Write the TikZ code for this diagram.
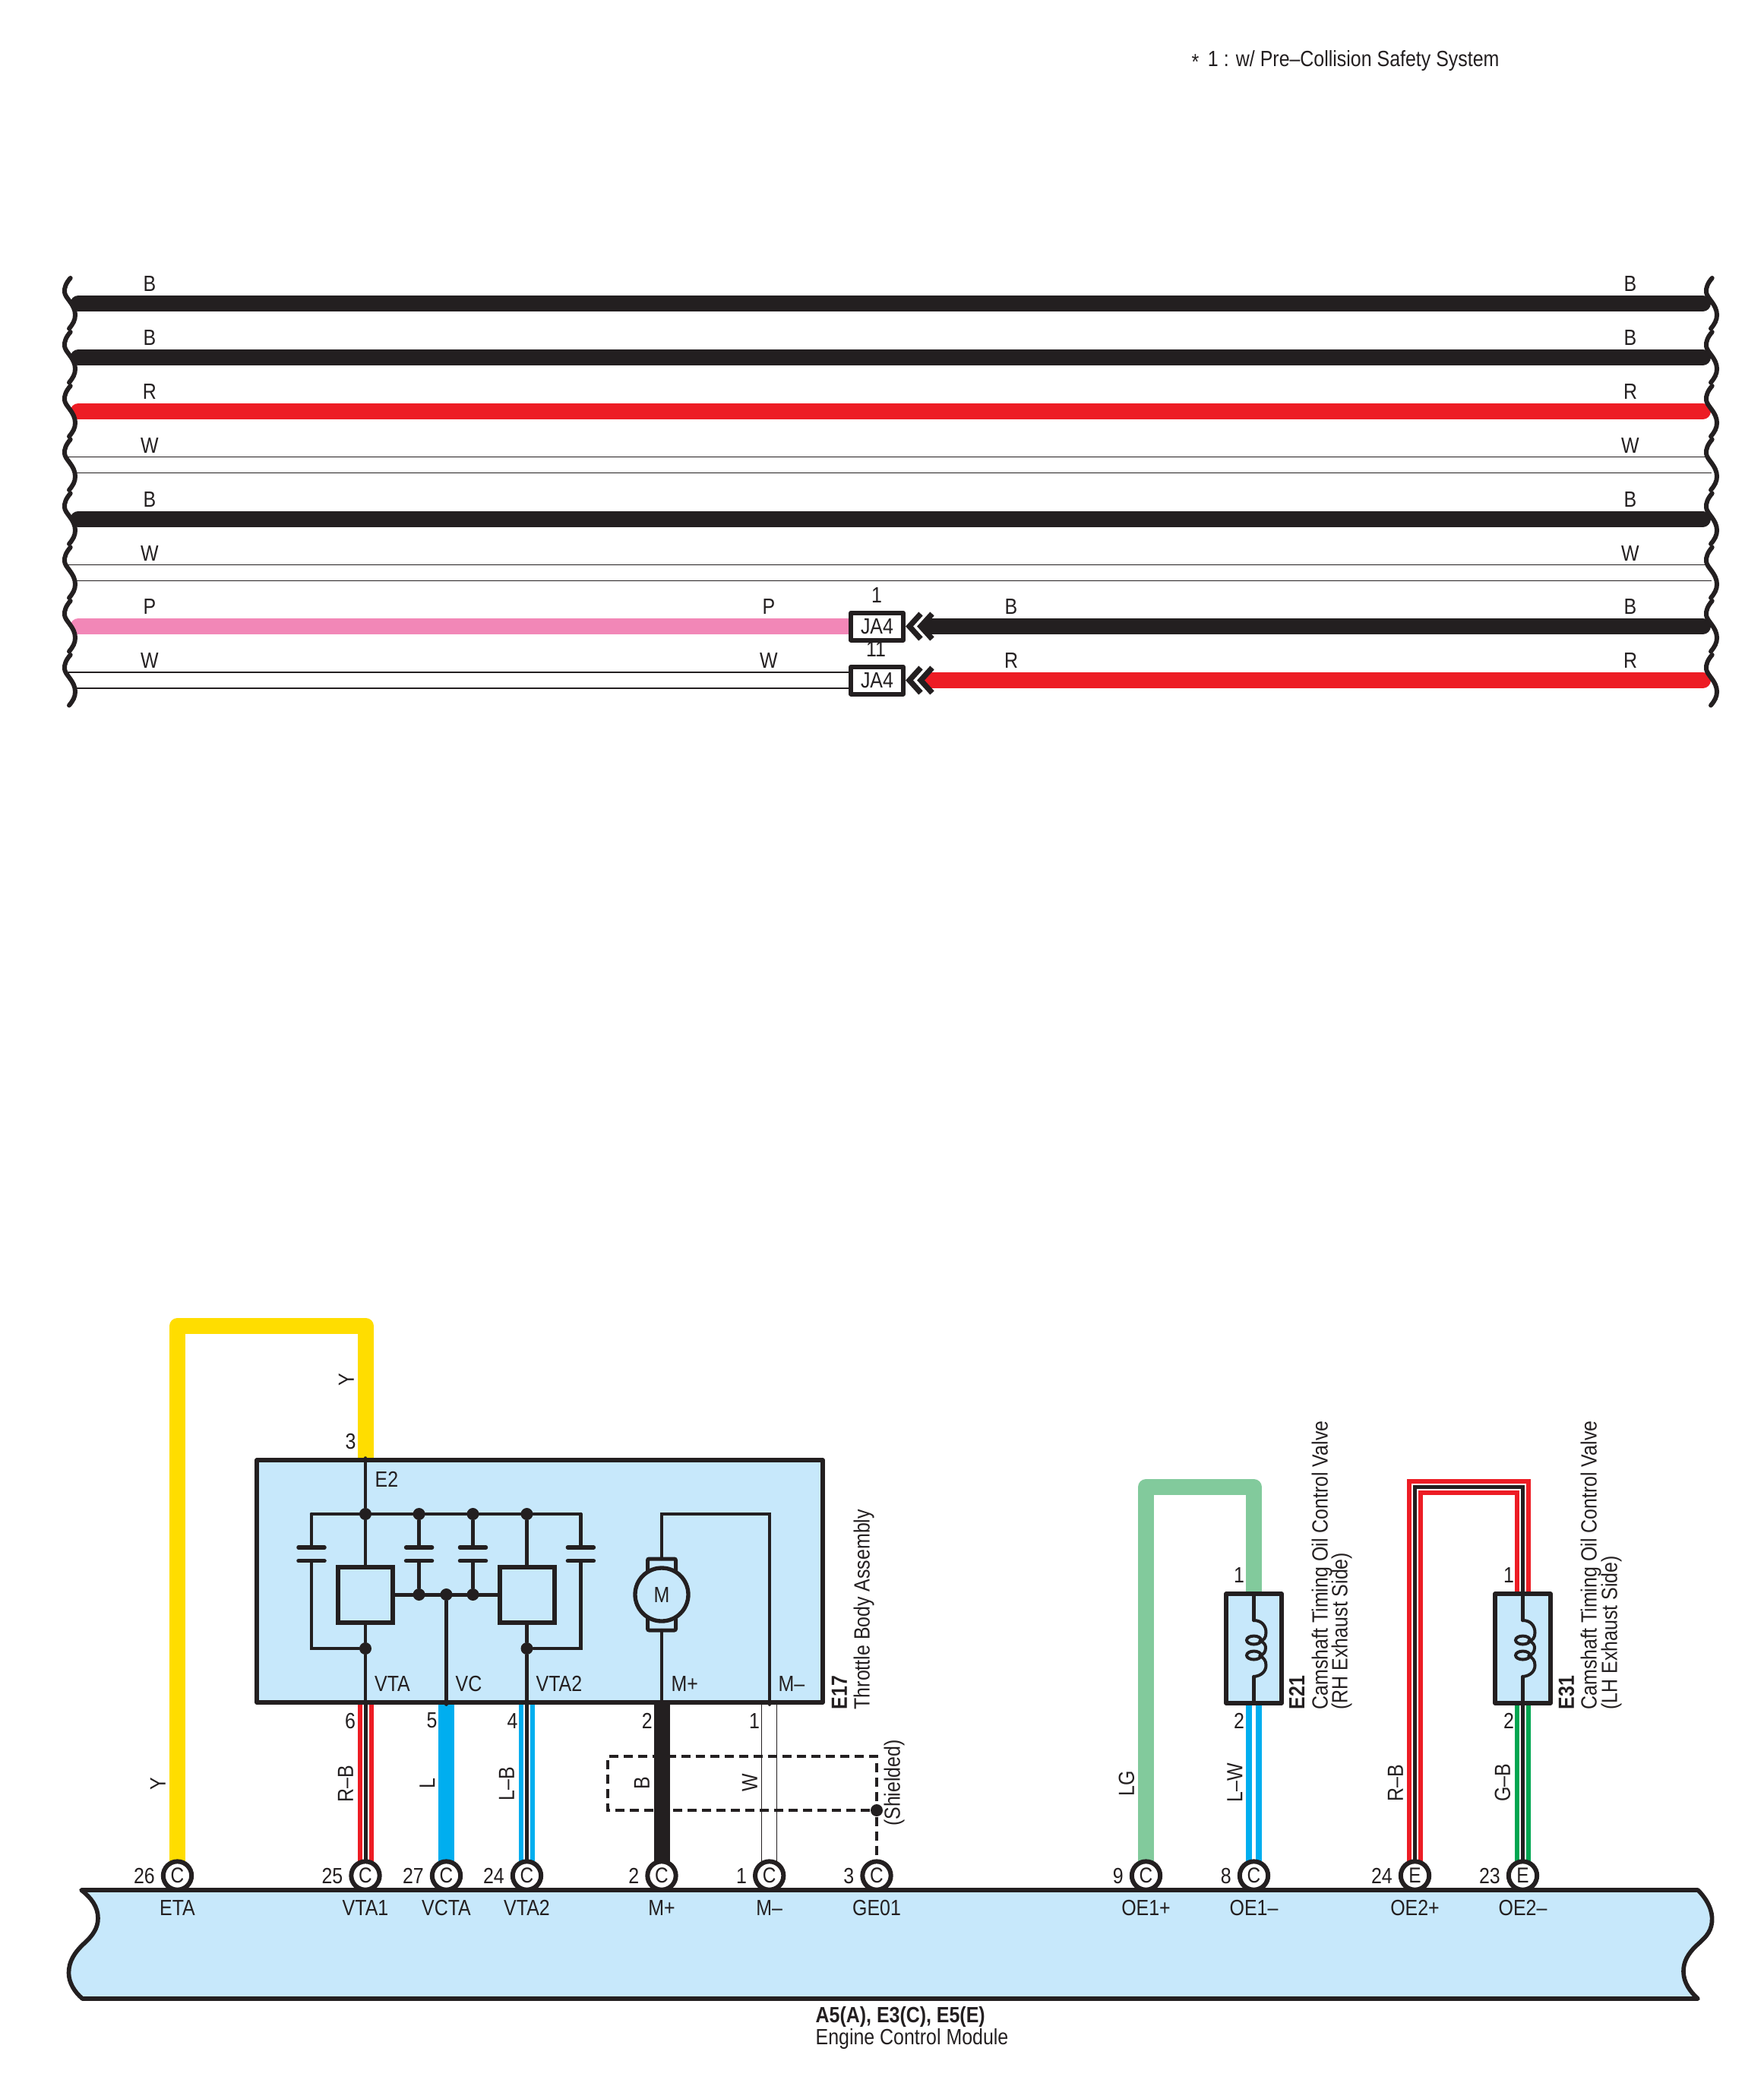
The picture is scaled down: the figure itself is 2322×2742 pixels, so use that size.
\documentclass[tikz,border=0pt]{standalone}
\usepackage{fontspec}
\setmainfont[FakeStretch=0.86]{Liberation Sans}
\pgfdeclarelayer{bg}
\pgfsetlayers{bg,main}
\definecolor{ink}{HTML}{231F20}
\definecolor{wred}{HTML}{ED1C24}
\definecolor{wpink}{HTML}{F287B7}
\definecolor{wyel}{HTML}{FFDD00}
\definecolor{wblue}{HTML}{00AEEF}
\definecolor{wgreen}{HTML}{00A651}
\definecolor{wlg}{HTML}{82CA9C}
\definecolor{pale}{HTML}{C7E8FB}
\tikzset{
 txt/.style={inner sep=0pt,text=ink,font=\fontsize{8.7}{10}\selectfont},
 wire/.style={line width=6.3pt,line cap=round,line join=round},
 thinw/.style={ink,line width=.33pt},
 inner/.style={ink,line width=1.3pt,line cap=round},
 plate/.style={ink,line width=1.65pt,line cap=round},
 squig/.style={ink,line width=1.8pt,line cap=round},
 comp/.style={draw=ink,fill=pale,line width=1.6pt,line join=round,inner sep=0pt},
 sbox/.style={draw=ink,fill=pale,line width=1.6pt,inner sep=0pt,minimum width=21.6pt,minimum height=21.9pt},
 jbox/.style={draw=ink,fill=white,line width=1.8pt,line join=round,inner sep=0pt,text=ink,font=\fontsize{8.7}{10}\selectfont,minimum width=20.6pt,minimum height=10.8pt},
 pin/.style={circle,draw=ink,fill=white,line width=1.8pt,inner sep=0pt,minimum size=11.2pt,text=ink,font=\fontsize{8.5}{10}\selectfont},
 dotn/.style={circle,fill=ink,inner sep=0pt,minimum size=4.8pt},
 shield/.style={ink,line width=1.25pt,dash pattern=on 3.6pt off 2.1pt},
 chev/.style={ink,line width=2.2pt,miter limit=10},
 boldtxt/.style={txt,font=\fontsize{8.7}{10}\selectfont\bfseries},
}
\newcommand\pinnode[4]{%
 \node[pin] (#1) at (#2,2469) {#3};
 \node[txt,anchor=east] at (#2-29,2469) {#4};}
\newcommand\trio[3]{%
 \draw[line width=6.3pt,#1,line join=miter] #3;
 \draw[line width=2.7pt,white,line join=miter] #3;
 \draw[line width=1.5pt,#2,line join=miter] #3;}
\newcommand\duo[2]{%
 \draw[line width=6.3pt,#1] #2;
 \draw[line width=1.5pt,white] #2;}
\newcommand\squiggles[1]{%
 \begin{scope}[shift={(0,#1)}]
 \draw[squig] (92.7,-33.5) .. controls (87,-27) and (84.5,-21) .. (85,-15) .. controls (85.5,-7) and (99,1) .. (99,15) .. controls (99,22) and (96,27) .. (91,33);
 \begin{scope}[shift={(2161,0)}]
 \draw[squig] (92.7,-33.5) .. controls (87,-27) and (84.5,-21) .. (85,-15) .. controls (85.5,-7) and (99,1) .. (99,15) .. controls (99,22) and (96,27) .. (91,33);
 \end{scope}
 \end{scope}}
\newcommand\chevrons[1]{%
 \draw[chev] (1212,#1-16.5) -- (1197,#1) -- (1212,#1+16.5);
 \draw[chev] (1227,#1-16.5) -- (1212,#1) -- (1227,#1+16.5);}
\newcommand\coil{%
 \draw[inner,line width=1.2pt] (0,-37) .. controls (10,-37) and (16,-30) .. (16,-21) .. controls (16,-14) and (13,-11) .. (8,-9.5);
 \draw[inner,line width=1.2pt] (8,-10) .. controls (14,-8) and (15.5,-4) .. (15.5,-1) .. controls (15.5,4) and (13,8) .. (8,9.5);
 \draw[inner,line width=1.2pt] (8,10) .. controls (13,12) and (16,16) .. (16,22) .. controls (16,30) and (10,36) .. (0,37);
 \draw[inner,line width=1.2pt] (0,-11) ellipse [x radius=9.5,y radius=5.5];
 \draw[inner,line width=1.2pt] (0,9) ellipse [x radius=9.5,y radius=5.5];}
\begin{document}
\begin{tikzpicture}[x=0.3pt,y=-0.3pt]
\useasboundingbox (0,0) rectangle (2322,2742);
% note
\node[txt,anchor=west] (note) at (1568,80) {\raisebox{-.25ex}{*}\hspace{.4em}1 : w/ Pre--Collision Safety System};
% ---------- upper wire rows
\foreach \nm/\yy in {a/399.5,b/470.5,c/541.5,d/612,e/683,f/754,g/824.5,h/895.5}{
 \coordinate (\nm L) at (103,\yy);
 \coordinate (\nm R) at (2241.5,\yy);
}
\draw[wire,ink] (aL) -- (aR);
\draw[wire,ink] (bL) -- (bR);
\draw[wire,wred] (cL) -- (cR);
\draw[thinw] (90,601.5) -- (2245,601.5) (99,622.5) -- (2253,622.5);
\draw[wire,ink] (eL) -- (eR);
\draw[thinw] (90,743.5) -- (2245,743.5) (99,764.5) -- (2253,764.5);
\node[jbox] (ja1) at (1154.5,824.5) {JA4};
\node[jbox] (ja2) at (1154.5,895.5) {JA4};
\begin{pgfonlayer}{bg}
\draw[wire,wpink] (gL) -- (ja1.center);
\draw[thinw] (90,885) -- (ja2.center |- 0,885) (99,906) -- (ja2.center |- 0,906);
\draw[wire,ink] (1226,824.5) coordinate (g2) -- (gR);
\draw[wire,wred] (1226,895.5) coordinate (h2) -- (hR);
\end{pgfonlayer}
\chevrons{824.5}
\chevrons{895.5}
\foreach \yy in {399.5,470.5,541.5,612,683,754,824.5,895.5}{\squiggles{\yy}}
\foreach \yy/\lab in {374/B,445/B,516/R,586.5/W,657.5/B,728.5/W,799/P,870/W}{
 \node[txt] at (197,\yy) {\lab};
}
\foreach \yy/\lab in {374/B,445/B,516/R,586.5/W,657.5/B,728.5/W,799/B,870/R}{
 \node[txt] at (2146,\yy) {\lab};
}
\node[txt] at (1012,799) {P};
\node[txt] at (1012,870) {W};
\node[txt] at (1331,799) {B};
\node[txt] at (1331,870) {R};
\node[txt] at (1154,784) {1};
\node[txt] at (1153,855) {11};
% ---------- pins
\pinnode{pETA}{233.5}{C}{26}
\pinnode{pVTAa}{481}{C}{25}
\pinnode{pVCTA}{587.5}{C}{27}
\pinnode{pVTAb}{693.5}{C}{24}
\pinnode{pMp}{871}{C}{2}
\pinnode{pMm}{1012.7}{C}{1}
\pinnode{pGE}{1154}{C}{3}
\pinnode{pOa}{1508.5}{C}{9}
\pinnode{pOb}{1650.5}{C}{8}
\pinnode{pOc}{1862.5}{E}{24}
\pinnode{pOd}{2004.5}{E}{23}
% ---------- components
\node[comp,minimum width=223.5pt,minimum height=95.7pt] (E17) at (710.5,2081.5) {};
\node[comp,minimum width=21.9pt,minimum height=43.2pt] (E21) at (1650.5,2170) {};
\node[comp,minimum width=21.9pt,minimum height=43.2pt] (E31) at (2004.5,2170) {};
% ---------- wires (under components and pins)
\begin{pgfonlayer}{bg}
\draw[wire,wyel] (pETA.center) |- (481.5,1745.5) -- (481.5,1935) coordinate (y3);
\trio{wred}{ink}{(pVTAa.center) -- (pVTAa.center |- E17.south)}
\draw[wire,wblue] (pVCTA.center) -- (pVCTA.center |- E17.south);
\trio{wblue}{ink}{(pVTAb.center) -- (pVTAb.center |- E17.south)}
\draw[wire,ink] (pMp.center) -- (pMp.center |- E17.south);
\draw[thinw] ([xshift=-3pt]pMm.center) -- ([xshift=-3pt]pMm.center |- E17.south);
\draw[thinw] ([xshift=3pt]pMm.center) -- ([xshift=3pt]pMm.center |- E17.south);
\draw[wire,wlg] (pOa.center) |- (1650.5,1957.5) -- (E21.center);
\duo{wblue}{(pOb.center) -- (E21.center)}
\trio{wred}{ink}{(pOc.center) |- (2004.5,1957.5) -- (E31.center)}
\trio{wgreen}{ink}{(pOd.center) -- (E31.center)}
\end{pgfonlayer}
% shield
\coordinate (sTL) at (800,2312);
\coordinate (sTR) at (1154,2312);
\coordinate (sBL) at (800,2383);
\node[dotn] (sD) at (1154,2383) {};
\draw[shield] (sD) -- (sBL) -- (sTL) -- (sTR) -- (sD);
\draw[shield] (sD) -- (pGE);
\node[txt,rotate=90] at (1177,2347) {(Shielded)};
% ---------- E17 interior
\foreach \nm/\xx in {d1/481,d2/551.6,d3/622.5,d4/693.5}{\node[dotn] (\nm) at (\xx,1993) {};}
\foreach \nm/\xx in {m1/551.6,m2/587.5,m3/622.5}{\node[dotn] (\nm) at (\xx,2099) {};}
\foreach \nm/\xx in {l1/481,l2/693.5}{\node[dotn] (\nm) at (\xx,2170) {};}
\node[sbox] (S1) at (481,2099.5) {};
\node[sbox] (S2) at (694,2099.5) {};
\coordinate (busL) at (410,1993);
\coordinate (busR) at (764.4,1993);
\draw[inner] (E17.north -| d1) -- (d1) -- (S1.north -| d1);
\draw[inner] (busL) -- (busR);
\draw[inner] (busL) -- (410,2037);
\draw[inner] (busR) -- (764.4,2037);
\draw[inner] (410,2055) -- (410,2170) -- (l1);
\draw[inner] (764.4,2055) -- (764.4,2170) -- (l2);
\draw[inner] (S1.south -| l1) -- (l1) -- (E17.south -| l1);
\draw[inner] (S2.south -| l2) -- (l2) -- (E17.south -| l2);
\draw[inner] (d4) -- (S2.north -| d4);
\draw[inner] (d2) -- (551.6,2037);
\draw[inner] (d3) -- (622.5,2037);
\draw[inner] (551.6,2055) -- (m1);
\draw[inner] (622.5,2055) -- (m3);
\draw[inner] (S1.east) -- (S2.west);
\draw[inner] (m2) -- (m2 |- E17.south);
\foreach \xx in {410,551.6,622.5,764.4}{
 \draw[plate] (\xx-17,2037) -- (\xx+17,2037);
 \draw[plate] (\xx-17,2054.7) -- (\xx+17,2054.7);
}
% motor
\draw[ink,line width=1.5pt,fill=pale,rounded corners=.6pt] (852.5,2052) rectangle (889.5,2146);
\node[circle,draw=ink,fill=pale,line width=1.6pt,inner sep=0pt,minimum size=21pt,text=ink,font=\fontsize{8.7}{10}\selectfont] (mot) at (871,2099) {M};
\coordinate (mTL) at (871,1993);
\coordinate (mTR) at (1013,1993);
\coordinate (mBase) at (871,2146);
\draw[inner] (871,2052) -- (mTL) -- (mTR) -- (mTR |- E17.south);
\draw[inner] (mBase) -- (mBase |- E17.south);
\node[txt,anchor=west] at (493,1947) {E2};
\node[txt,anchor=west] at (492.5,2216) {VTA};
\node[txt,anchor=west] at (599,2216) {VC};
\node[txt,anchor=west] at (705,2216) {VTA2};
\node[txt,anchor=west] at (883,2216) {M+};
\node[txt,anchor=west] at (1024,2216) {M--};
\node[txt] at (461.5,1897) {3};
\node[txt] at (461,2265) {6};
\node[txt] at (568.5,2265) {5};
\node[txt] at (674.5,2265) {4};
\node[txt] at (851.7,2265) {2};
\node[txt] at (993,2265) {1};
\node[boldtxt,rotate=90,anchor=west] at (1105,2251) {E17};
\node[txt,rotate=90,anchor=west] at (1137,2251) {Throttle Body Assembly};
% ---------- E21 / E31 interior
\foreach \cc/\xx in {E21/1650.5,E31/2004.5}{
 \begin{scope}[shift={(\xx,2170)}]
 \draw[inner] (0,-72) -- (0,-37);
 \draw[inner] (0,37) -- (0,72);
 \coil
 \end{scope}
}
\node[txt] at (1631,2073) {1};
\node[txt] at (1631,2265) {2};
\node[txt] at (1986,2073) {1};
\node[txt] at (1986,2265) {2};
\node[boldtxt,rotate=90,anchor=west] at (1707,2251) {E21};
\node[txt,rotate=90,anchor=west] at (1740,2251) {Camshaft Timing Oil Control Valve};
\node[txt,rotate=90,anchor=west] at (1766,2251) {(RH Exhaust Side)};
\node[boldtxt,rotate=90,anchor=west] at (2062,2251) {E31};
\node[txt,rotate=90,anchor=west] at (2094,2251) {Camshaft Timing Oil Control Valve};
\node[txt,rotate=90,anchor=west] at (2121,2251) {(LH Exhaust Side)};
% ---------- wire labels
\node[txt,rotate=90] at (456,1816) {Y};
\node[txt,rotate=90] at (208,2348) {Y};
\node[txt,rotate=90] at (455,2348) {R--B};
\node[txt,rotate=90] at (562.5,2348) {L};
\node[txt,rotate=90] at (667,2348) {L--B};
\node[txt,rotate=90] at (845,2347) {B};
\node[txt,rotate=90] at (987,2347) {W};
\node[txt,rotate=90] at (1483,2348) {LG};
\node[txt,rotate=90] at (1625.5,2347) {L--W};
\node[txt,rotate=90] at (1837,2347) {R--B};
\node[txt,rotate=90] at (1978,2347) {G--B};
% ---------- ECM bar
\path[fill=pale,draw=ink,line width=1.7pt,line join=round]
 (107,2488) -- (2235,2488)
 .. controls (2247,2500) and (2255,2515) .. (2253.5,2530)
 .. controls (2252,2545) and (2243,2552) .. (2232,2562)
 .. controls (2222,2572) and (2216,2582) .. (2216,2595)
 .. controls (2216,2610) and (2225,2622) .. (2235,2631)
 -- (108.5,2631)
 .. controls (98,2622) and (90.5,2610) .. (90.5,2597)
 .. controls (90.5,2582) and (98,2570) .. (111,2558)
 .. controls (122,2548) and (129,2538) .. (129,2525)
 .. controls (129,2510) and (120,2498) .. (107,2488) -- cycle;
\foreach \xx/\lab in {233.5/ETA,481/VTA1,587.5/VCTA,693.5/VTA2,871/M+,1012.7/M--,1154/GE01,1508.5/OE1+,1650.5/OE1--,1862.5/OE2+,2004.5/OE2--}{
 \node[txt] at (\xx,2511.5) {\lab};
}
\node[boldtxt,anchor=west] (ecm1) at (1073,2655) {A5(A), E3(C), E5(E)};
\node[txt,anchor=west] (ecm2) at (1073,2684) {Engine Control Module};
\end{tikzpicture}
\end{document}
